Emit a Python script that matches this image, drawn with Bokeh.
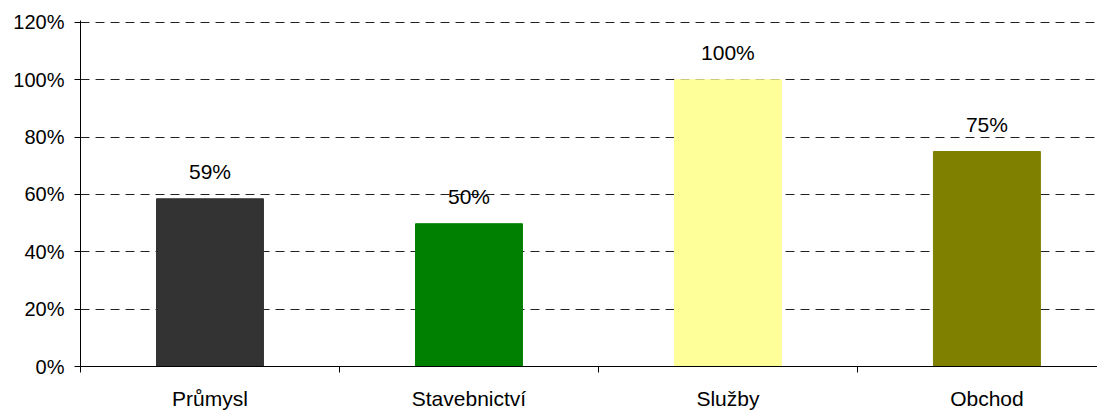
from bokeh.plotting import figure
from bokeh.models import ColumnDataSource, Range1d, FixedTicker, PrintfTickFormatter, LinearAxis
from bokeh.core.properties import value
from bokeh.embed import file_html
from bokeh.resources import INLINE

categories = ["Průmysl", "Stavebnictví", "Služby", "Obchod"]
values = [58.5, 49.8, 100, 75]
labels = ["59%", "50%", "100%", "75%"]
colors = ["#333333", "#008000", "#FFFF99", "#808000"]
y_ticks = [0, 20, 40, 60, 80, 100, 120]

FONT = "Liberation Sans"

xs = [i + 0.5 for i in range(len(categories))]
src = ColumnDataSource(dict(x=xs, top=values, label=labels, color=colors))

p = figure(width=1097, height=412, output_backend="svg", toolbar_location=None,
           x_range=Range1d(0, 3.927), y_range=Range1d(0, 120.69),
           x_axis_type=None, min_border_left=80, min_border_right=0,
           min_border_top=20, min_border_bottom=43)
p.outline_line_color = None
p.background_fill_color = "white"
p.border_fill_color = "white"

p.vbar(x="x", top="top", width=0.413, color="color", source=src)
p.text(x="x", y="top", text="label", source=src, y_offset=-27,
       text_align="center", text_baseline="alphabetic",
       text_font=value(FONT), text_font_size="21px", text_color="#000000")

# y axis
ya = p.yaxis[0]
ya.ticker = FixedTicker(ticks=y_ticks)
ya.formatter = PrintfTickFormatter(format="%d%%")
ya.axis_line_color = "#000000"
ya.major_tick_line_color = "#000000"
ya.major_tick_out = 6
ya.major_tick_in = 0
ya.minor_tick_line_color = None
ya.major_label_standoff = 10
ya.major_label_text_font = FONT
ya.major_label_text_font_size = "20px"
ya.major_label_text_color = "#000000"

# x axis
xa = LinearAxis(ticker=FixedTicker(ticks=xs, minor_ticks=list(range(len(categories) + 1))))
xa.major_label_overrides = {x: c for x, c in zip(xs, categories)}
xa.axis_line_color = "#000000"
xa.major_tick_line_color = None
xa.major_tick_out = 0
xa.major_tick_in = 0
xa.minor_tick_line_color = "#000000"
xa.minor_tick_out = 6
xa.minor_tick_in = 0
xa.major_label_standoff = 14
xa.major_label_text_font = FONT
xa.major_label_text_font_size = "21px"
xa.major_label_text_color = "#000000"
p.add_layout(xa, "below")

p.xgrid.grid_line_color = None
p.ygrid.ticker = FixedTicker(ticks=y_ticks)
p.ygrid.grid_line_color = "#222222"
p.ygrid.grid_line_dash = "9 6"
p.ygrid.grid_line_width = 1

open("out.html", "w").write(file_html(p, INLINE))
